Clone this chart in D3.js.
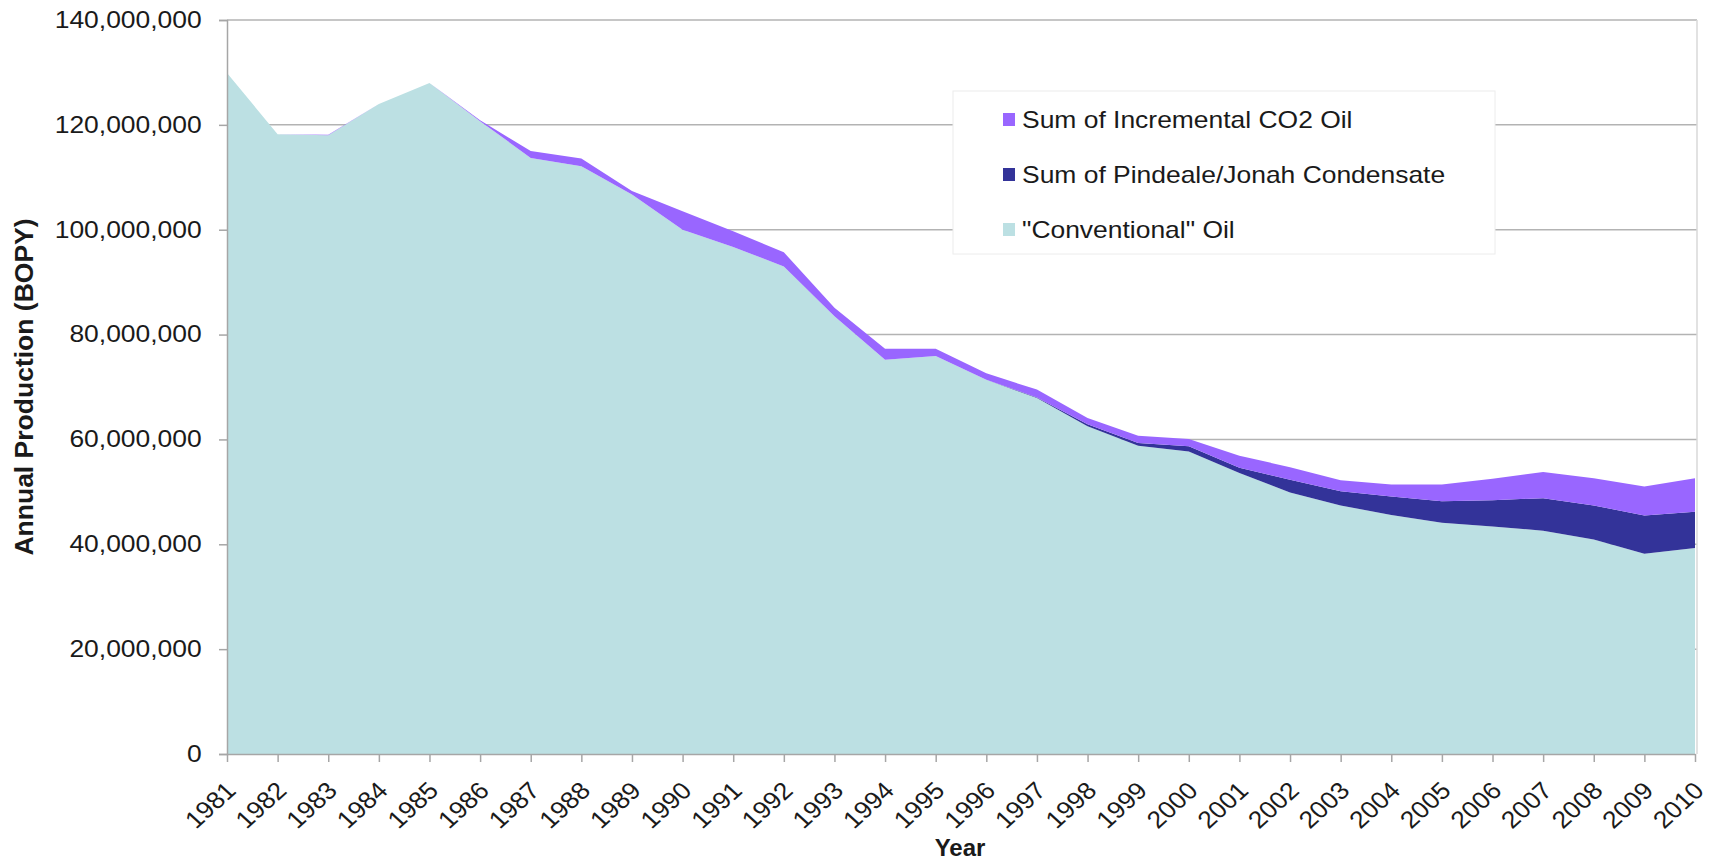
<!DOCTYPE html>
<html>
<head>
<meta charset="utf-8">
<script src="https://cdn.jsdelivr.net/npm/d3@7"></script>
<style>
  body { margin: 0; background: #fff; }
  svg { display: block; font-family: "Liberation Sans", Arial, sans-serif; }
</style>
</head>
<body>
<svg id="chart" width="1714" height="861"></svg>
<script>
// values, barrels of oil per year
const years = [1981, 1982, 1983, 1984, 1985, 1986, 1987, 1988, 1989, 1990,
               1991, 1992, 1993, 1994, 1995, 1996, 1997, 1998, 1999, 2000,
               2001, 2002, 2003, 2004, 2005, 2006, 2007, 2008, 2009, 2010];
const conventional = [129.9e6, 118.2e6, 118.0e6, 124.0e6, 128.0e6, 120.7e6, 113.7e6, 112.1e6, 106.7e6, 100.0e6,
                      96.7e6, 93.0e6, 83.5e6, 75.2e6, 75.9e6, 71.4e6, 67.9e6, 62.5e6, 58.8e6, 57.7e6,
                      53.6e6, 49.9e6, 47.4e6, 45.6e6, 44.1e6, 43.4e6, 42.6e6, 40.9e6, 38.2e6, 39.3e6];
const condensate = [0, 0, 0, 0, 0, 0, 0, 0, 0, 0,
                    0, 0, 0, 0, 0, 0, 0.1e6, 0.4e6, 0.5e6, 1.0e6,
                    1.0e6, 2.4e6, 2.7e6, 3.5e6, 4.1e6, 5.0e6, 6.2e6, 6.5e6, 7.3e6, 6.9e6];
const co2Oil = [0, 0, 0.1e6, 0, 0, 0.2e6, 1.3e6, 1.5e6, 0.7e6, 3.5e6,
                3.0e6, 2.7e6, 1.6e6, 2.1e6, 1.4e6, 1.2e6, 1.5e6, 1.2e6, 1.4e6, 1.4e6,
                2.3e6, 2.4e6, 2.1e6, 2.3e6, 3.2e6, 4.1e6, 5.0e6, 5.2e6, 5.5e6, 6.4e6];
const yTicks = [0, 20e6, 40e6, 60e6, 80e6, 100e6, 120e6, 140e6];

const seriesKeys = ["conventional", "condensate", "co2"];
const seriesNames = {
    co2: "Sum of Incremental CO2 Oil",
    condensate: "Sum of Pindeale/Jonah Condensate",
    conventional: "\"Conventional\" Oil"
};
const colors = { conventional: "#bce0e3", condensate: "#333399", co2: "#9966ff" };

const SX = 1.15; // the picture's text is a bit wider than it is tall

const margin = { top: 20, right: 19, bottom: 107, left: 227 };
const width = 1714, height = 861;

const svg = d3.select("#chart");

const x = d3.scaleLinear()
    .domain([years[0], years[years.length - 1]])
    .range([margin.left, width - margin.right]);

const y = d3.scaleLinear()
    .domain([0, 140e6])
    .range([height - margin.bottom, margin.top]);

const rows = years.map((yr, i) => ({
    year: yr,
    conventional: conventional[i],
    condensate: condensate[i],
    co2: co2Oil[i]
}));

const stacked = d3.stack().keys(seriesKeys)(rows);

// gridlines
svg.append("g")
    .selectAll("line")
    .data(yTicks.filter(d => d > 0))
    .enter()
    .append("line")
    .attr("x1", margin.left)
    .attr("x2", width - margin.right + 2)
    .attr("y1", d => y(d))
    .attr("y2", d => y(d))
    .attr("stroke", "#b3b3b3")
    .attr("stroke-width", 1.5);

// right border of plot area
svg.append("line")
    .attr("x1", width - margin.right + 2).attr("x2", width - margin.right + 2)
    .attr("y1", margin.top).attr("y2", height - margin.bottom)
    .attr("stroke", "#d9d9d9").attr("stroke-width", 1.5);

const area = d3.area()
    .x(d => x(d.data.year))
    .y0(d => y(d[0]))
    .y1(d => y(d[1]));

svg.append("g")
    .selectAll("path")
    .data(stacked)
    .enter()
    .append("path")
    .attr("d", area)
    .attr("fill", d => colors[d.key]);

// y axis
const yAxis = svg.append("g")
    .attr("transform", `translate(${margin.left},0)`)
    .call(d3.axisLeft(y).tickValues(yTicks).tickFormat(d3.format(",")).tickSize(8).tickPadding(14));
yAxis.select(".domain").attr("stroke", "#a6a6a6").attr("stroke-width", 1.5);
yAxis.selectAll(".tick line").attr("stroke", "#a6a6a6").attr("stroke-width", 1.5);
yAxis.selectAll("text")
    .attr("font-size", 23)
    .attr("fill", "#1a1a1a")
    .attr("transform", `scale(${SX},1)`);

// x axis
const xAxis = svg.append("g")
    .attr("transform", `translate(0,${height - margin.bottom})`)
    .call(d3.axisBottom(x).tickValues(years).tickFormat(d3.format("d")).tickSize(8).tickSizeOuter(0));
xAxis.select(".domain").attr("stroke", "#a6a6a6").attr("stroke-width", 1.5);
xAxis.selectAll(".tick line").attr("stroke", "#a6a6a6").attr("stroke-width", 1.5);
xAxis.selectAll("text")
    .attr("font-size", 24)
    .attr("fill", "#1a1a1a")
    .attr("text-anchor", "end")
    .attr("x", 0)
    .attr("y", 0)
    .attr("dy", 0)
    .attr("transform", "translate(10,38) scale(1.1,1) rotate(-45)");

// axis titles
svg.append("text")
    .attr("x", 960)
    .attr("y", 856)
    .attr("text-anchor", "middle")
    .attr("font-size", 24)
    .attr("font-weight", "bold")
    .attr("fill", "#1a1a1a")
    .text("Year");

svg.append("text")
    .attr("transform", "translate(33,387) rotate(-90)")
    .attr("text-anchor", "middle")
    .attr("font-size", 26.5)
    .attr("font-weight", "bold")
    .attr("fill", "#1a1a1a")
    .text("Annual Production (BOPY)");

// legend
const legend = svg.append("g").attr("transform", "translate(953,91)");
legend.append("rect")
    .attr("width", 542)
    .attr("height", 163)
    .attr("fill", "#fff")
    .attr("stroke", "#ececec")
    .attr("stroke-width", 1);

const legendKeys = ["co2", "condensate", "conventional"];
const legendItem = legend.selectAll(".item")
    .data(legendKeys)
    .enter()
    .append("g")
    .attr("class", "item")
    .attr("transform", (d, i) => `translate(50,${29 + i * 55})`);

legendItem.append("rect")
    .attr("x", 0)
    .attr("y", -7)
    .attr("width", 12)
    .attr("height", 13)
    .attr("fill", d => colors[d]);

legendItem.append("text")
    .attr("transform", `translate(19,0) scale(${SX},1)`)
    .attr("dy", "0.35em")
    .attr("font-size", 23)
    .attr("fill", "#1a1a1a")
    .text(d => seriesNames[d]);
</script>
</body>
</html>
